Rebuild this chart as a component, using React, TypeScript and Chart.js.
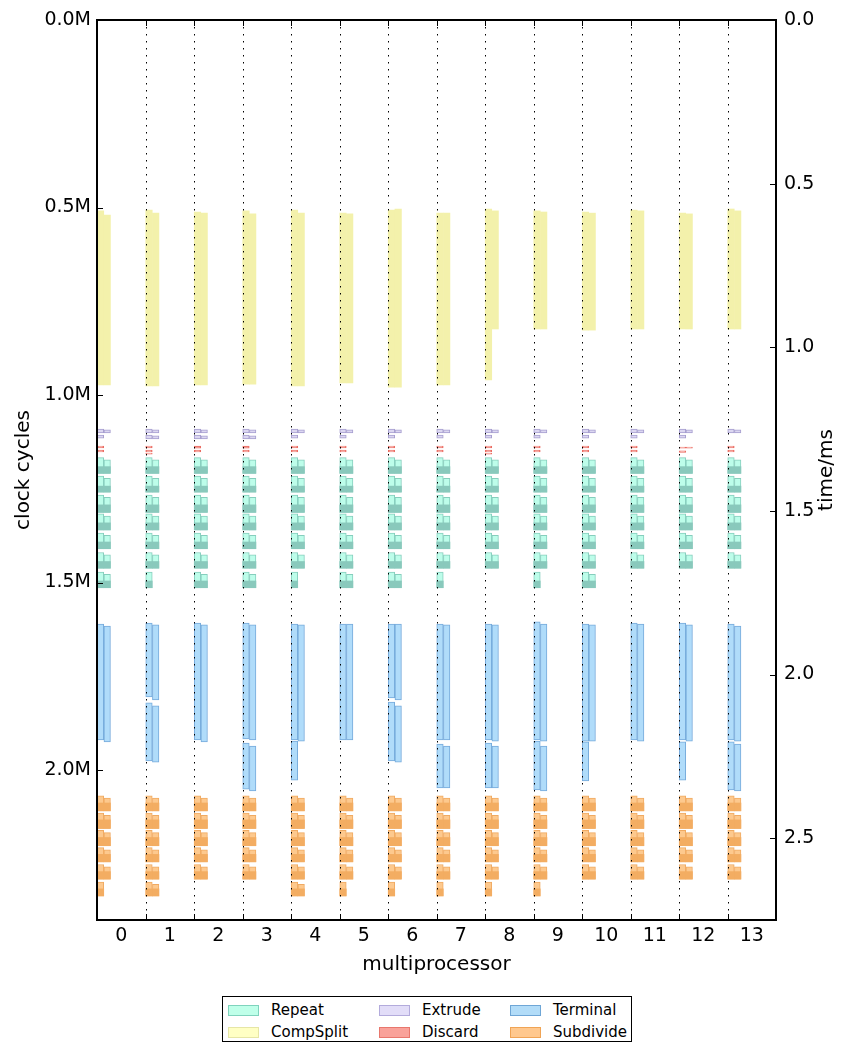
import React, { useEffect, useRef } from "react";
import { Chart, registerables } from "chart.js";

Chart.register(...registerables);

// ---------------- data (clock cycles in millions) ----------------
const multiprocessors = [0, 1, 2, 3, 4, 5, 6, 7, 8, 9, 10, 11, 12, 13];
const cycleTicks = [0, 0.5, 1.0, 1.5, 2.0];
const timeTicks = [0, 0.5, 1.0, 1.5, 2.0, 2.5];
const CYCLE_MAX = 2.4; // M cycles
const TIME_MAX = 2.75; // ms

// [multiprocessor, lane, start, end]
const compSplitBars = [
  [0, 0, 0.509, 0.973], [0, 1, 0.52, 0.973],
  [1, 0, 0.507, 0.976], [1, 1, 0.515, 0.976],
  [2, 0, 0.512, 0.973], [2, 1, 0.515, 0.973],
  [3, 0, 0.509, 0.971], [3, 1, 0.517, 0.971],
  [4, 0, 0.507, 0.976], [4, 1, 0.515, 0.976],
  [5, 0, 0.515, 0.968], [5, 1, 0.517, 0.968],
  [6, 0, 0.507, 0.979], [6, 1, 0.504, 0.979],
  [7, 0, 0.515, 0.973], [7, 1, 0.515, 0.973],
  [8, 0, 0.504, 0.96], [8, 1, 0.509, 0.824],
  [9, 0, 0.509, 0.824], [9, 1, 0.512, 0.824],
  [10, 0, 0.512, 0.827], [10, 1, 0.515, 0.827],
  [11, 0, 0.507, 0.824], [11, 1, 0.509, 0.824],
  [12, 0, 0.515, 0.824], [12, 1, 0.517, 0.824],
  [13, 0, 0.504, 0.824], [13, 1, 0.509, 0.824],
];

const extrudeBars = [
  [0, 0, 1.091, 1.101], [0, 1, 1.093, 1.101], [0, 0, 1.107, 1.115],
  [1, 0, 1.091, 1.101], [1, 1, 1.093, 1.101], [1, 0, 1.107, 1.117], [1, 1, 1.109, 1.117],
  [2, 0, 1.091, 1.101], [2, 1, 1.093, 1.101], [2, 0, 1.107, 1.117], [2, 1, 1.109, 1.117],
  [3, 0, 1.091, 1.101], [3, 1, 1.093, 1.101], [3, 0, 1.107, 1.117], [3, 1, 1.109, 1.117],
  [4, 0, 1.091, 1.101], [4, 1, 1.093, 1.101], [4, 0, 1.107, 1.115],
  [5, 0, 1.091, 1.101], [5, 1, 1.093, 1.101], [5, 0, 1.107, 1.115],
  [6, 0, 1.091, 1.101], [6, 1, 1.093, 1.101], [6, 0, 1.107, 1.115],
  [7, 0, 1.091, 1.101], [7, 1, 1.093, 1.101], [7, 0, 1.107, 1.115],
  [8, 0, 1.091, 1.101], [8, 1, 1.093, 1.101], [8, 0, 1.107, 1.115],
  [9, 0, 1.091, 1.101], [9, 1, 1.093, 1.101], [9, 0, 1.107, 1.115],
  [10, 0, 1.091, 1.101], [10, 1, 1.093, 1.101], [10, 0, 1.107, 1.115],
  [11, 0, 1.091, 1.101], [11, 1, 1.093, 1.101], [11, 0, 1.107, 1.115],
  [12, 0, 1.091, 1.101], [12, 1, 1.093, 1.101], [12, 0, 1.107, 1.115],
  [13, 0, 1.091, 1.101], [13, 1, 1.093, 1.101],
];

const discardBars = [
  [0, 0, 1.136, 1.141], [0, 0, 1.147, 1.152],
  [1, 0, 1.136, 1.141], [1, 0, 1.147, 1.152], [1, 0, 1.155, 1.158],
  [2, 0, 1.136, 1.142], [2, 0, 1.147, 1.152],
  [3, 0, 1.136, 1.142], [3, 0, 1.147, 1.152],
  [4, 0, 1.136, 1.141], [4, 0, 1.147, 1.152],
  [5, 0, 1.136, 1.141], [5, 0, 1.147, 1.152],
  [6, 0, 1.136, 1.141], [6, 0, 1.147, 1.152],
  [7, 0, 1.136, 1.141], [7, 0, 1.147, 1.152],
  [8, 0, 1.136, 1.141], [8, 0, 1.147, 1.152], [8, 0, 1.155, 1.158],
  [9, 0, 1.136, 1.141], [9, 0, 1.147, 1.152],
  [10, 0, 1.136, 1.141], [10, 0, 1.147, 1.152],
  [11, 0, 1.136, 1.141], [11, 0, 1.147, 1.152],
  [12, 0, 1.139, 1.142], [12, 1, 1.139, 1.142], [12, 0, 1.149, 1.153],
  [13, 0, 1.136, 1.141], [13, 0, 1.147, 1.152],
];

// Repeat phases: per round start (lane 0 / lane 1), start of dense part, end
const repeatStartA = [1.167, 1.216, 1.267, 1.317, 1.368, 1.42, 1.472];
const repeatStartB = [1.173, 1.222, 1.273, 1.323, 1.374, 1.426, 1.478];
const repeatDense = [1.191, 1.243, 1.293, 1.341, 1.392, 1.444, 1.496];
const repeatEnd = [1.209, 1.259, 1.313, 1.36, 1.41, 1.462, 1.514];
const repeatRoundsA = [7, 7, 7, 7, 7, 7, 7, 7, 6, 7, 7, 6, 6, 6];
const repeatRoundsB = [7, 6, 7, 7, 6, 7, 7, 6, 6, 6, 7, 6, 6, 6];

const terminalBars = [
  [0, 0, 1.611, 1.92], [0, 1, 1.616, 1.925],
  [1, 0, 1.608, 1.805], [1, 1, 1.613, 1.813], [1, 0, 1.821, 1.976], [1, 1, 1.829, 1.979],
  [2, 0, 1.608, 1.92], [2, 1, 1.613, 1.925],
  [3, 0, 1.608, 1.917], [3, 1, 1.613, 1.92], [3, 0, 1.928, 2.051], [3, 1, 1.936, 2.056],
  [4, 0, 1.611, 1.92], [4, 1, 1.613, 1.923], [4, 0, 1.923, 2.027],
  [5, 0, 1.611, 1.92], [5, 1, 1.611, 1.92],
  [6, 0, 1.611, 1.808], [6, 1, 1.611, 1.813], [6, 0, 1.819, 1.976], [6, 1, 1.829, 1.979],
  [7, 0, 1.611, 1.92], [7, 1, 1.613, 1.92], [7, 0, 1.931, 2.048], [7, 1, 1.936, 2.048],
  [8, 0, 1.611, 1.92], [8, 1, 1.613, 1.923], [8, 0, 1.928, 2.048], [8, 1, 1.936, 2.048],
  [9, 0, 1.605, 1.92], [9, 1, 1.611, 1.923], [9, 0, 1.923, 2.053], [9, 1, 1.936, 2.056],
  [10, 0, 1.611, 1.923], [10, 1, 1.613, 1.923], [10, 0, 1.925, 2.029],
  [11, 0, 1.608, 1.92], [11, 1, 1.611, 1.923],
  [12, 0, 1.608, 1.92], [12, 1, 1.613, 1.923], [12, 0, 1.925, 2.027],
  [13, 0, 1.611, 1.92], [13, 1, 1.616, 1.923], [13, 0, 1.925, 2.053], [13, 1, 1.931, 2.056],
];

const subdivideStartA = [2.069, 2.115, 2.161, 2.207, 2.252, 2.299];
const subdivideStartB = [2.075, 2.121, 2.167, 2.213, 2.258, 2.305];
const subdivideDense = [2.088, 2.133, 2.18, 2.225, 2.271, 2.317];
const subdivideEnd = [2.109, 2.156, 2.202, 2.245, 2.291, 2.336];
const subdivideRoundsA = [6, 6, 5, 5, 6, 6, 6, 6, 6, 6, 5, 5, 5, 5];
const subdivideRoundsB = [5, 6, 5, 5, 6, 5, 5, 5, 5, 5, 5, 5, 5, 5];

const legendItems = [
  { label: "Repeat", fill: "#bfffe9", edge: "#7fd3bd" },
  { label: "Extrude", fill: "#e2ddf8", edge: "#b3abdc" },
  { label: "Terminal", fill: "#b2dcf8", edge: "#6fa6d6" },
  { label: "CompSplit", fill: "#ffffc4", edge: "#e6e6a6" },
  { label: "Discard", fill: "#f9a29a", edge: "#e8776d" },
  { label: "Subdivide", fill: "#ffc88e", edge: "#f0a455" },
];

// ---------------- helpers ----------------
const LANE_OFFSET = [0.072, 0.21]; // lane centre, from the start of the multiprocessor slot

const toPoints = (bars: number[][]) =>
  bars.map(([mp, lane, s, e]) => ({ x: mp - 0.5 + LANE_OFFSET[lane], y: [s, e] }));

function roundBars(
  roundsA: number[], roundsB: number[],
  startA: number[], startB: number[], dense: number[], end: number[]
) {
  const full: number[][] = [];
  const heavy: number[][] = [];
  multiprocessors.forEach((mp) => {
    for (let g = 0; g < roundsA[mp]; g++) {
      full.push([mp, 0, startA[g], end[g]]);
      heavy.push([mp, 0, dense[g], end[g]]);
    }
    for (let g = 0; g < roundsB[mp]; g++) {
      full.push([mp, 1, startB[g], end[g]]);
      heavy.push([mp, 1, dense[g], end[g]]);
    }
  });
  return { full, heavy };
}

const FONT = "'DejaVu Sans', 'Liberation Sans', sans-serif";

const framePlugin = {
  id: "mplFrame",
  afterDatasetsDraw(chart: any) {
    const { ctx, chartArea } = chart;
    const { left, right, top, bottom } = chartArea;
    const xs = chart.scales.x;
    const ys = chart.scales.y;
    const ys1 = chart.scales.y1;
    ctx.save();
    // dotted slot separators
    ctx.strokeStyle = "#000";
    ctx.lineWidth = 1;
    ctx.setLineDash([1.5, 5.5]);
    multiprocessors.slice(1).forEach((mp) => {
      const px = Math.round(xs.getPixelForValue(mp - 0.5)) + 0.5;
      ctx.beginPath();
      ctx.moveTo(px, top);
      ctx.lineTo(px, bottom);
      ctx.stroke();
    });
    ctx.setLineDash([]);
    // inward ticks
    const tl = 6;
    cycleTicks.forEach((v) => {
      const py = Math.round(ys.getPixelForValue(v)) + 0.5;
      ctx.beginPath();
      ctx.moveTo(left, py);
      ctx.lineTo(left + tl, py);
      ctx.stroke();
    });
    timeTicks.forEach((v) => {
      const py = Math.round(ys1.getPixelForValue(v)) + 0.5;
      ctx.beginPath();
      ctx.moveTo(right, py);
      ctx.lineTo(right - tl, py);
      ctx.stroke();
    });
    multiprocessors.slice(1).forEach((mp) => {
      const px = Math.round(xs.getPixelForValue(mp - 0.5)) + 0.5;
      ctx.beginPath();
      ctx.moveTo(px, bottom);
      ctx.lineTo(px, bottom - tl);
      ctx.moveTo(px, top);
      ctx.lineTo(px, top + tl);
      ctx.stroke();
    });
    // frame
    ctx.lineWidth = 2;
    ctx.strokeRect(left, top, right - left, bottom - top);
    // right axis title (matplotlib-style, reading bottom to top)
    ctx.fillStyle = "#000";
    ctx.font = `20px ${FONT}`;
    ctx.textAlign = "center";
    ctx.textBaseline = "middle";
    ctx.translate(827, (top + bottom) / 2);
    ctx.rotate(-Math.PI / 2);
    ctx.fillText("time/ms", 0, 0);
    ctx.restore();
  },
};

export default function App() {
  const canvasRef = useRef<HTMLCanvasElement | null>(null);

  useEffect(() => {
    if (!canvasRef.current) return;
    Chart.defaults.font.family = FONT;
    Chart.defaults.color = "#000";

    const repeat = roundBars(repeatRoundsA, repeatRoundsB, repeatStartA, repeatStartB, repeatDense, repeatEnd);
    const subdivide = roundBars(
      subdivideRoundsA, subdivideRoundsB, subdivideStartA, subdivideStartB, subdivideDense, subdivideEnd
    );

    const base = { xAxisID: "x", yAxisID: "y", borderSkipped: false as const };

    const chart = new Chart(canvasRef.current, {
      type: "bar",
      data: {
        datasets: [
          { ...base, label: "CompSplit", data: toPoints(compSplitBars) as any, backgroundColor: "#f3f1ab", borderColor: "#f0eea4", borderWidth: 0, order: 5 },
          { ...base, label: "Extrude", data: toPoints(extrudeBars) as any, backgroundColor: "#dcd7f1", borderColor: "#a69ecf", borderWidth: 1, order: 4 },
          { ...base, label: "Discard", data: toPoints(discardBars) as any, backgroundColor: "#f6a59d", borderColor: "#ea6a60", borderWidth: 1, order: 4 },
          { ...base, label: "Repeat", data: toPoints(repeat.full) as any, backgroundColor: "#bdfdea", borderColor: "#86cebd", borderWidth: 1, order: 3 },
          { ...base, label: "Repeat (dense)", data: toPoints(repeat.heavy) as any, backgroundColor: "#89c9bc", borderWidth: 0, order: 2 },
          { ...base, label: "Terminal", data: toPoints(terminalBars) as any, backgroundColor: "#b0dcfa", borderColor: "#76aadb", borderWidth: 1, order: 3 },
          { ...base, label: "Subdivide", data: toPoints(subdivide.full) as any, backgroundColor: "#fdc98e", borderColor: "#f0aa62", borderWidth: 1, order: 3 },
          { ...base, label: "Subdivide (dense)", data: toPoints(subdivide.heavy) as any, backgroundColor: "#f3ad62", borderWidth: 0, order: 2 },
        ],
      },
      options: {
        animation: false,
        responsive: false,
        maintainAspectRatio: false,
        events: [],
        layout: { padding: { top: 20, left: 0, right: 0, bottom: 0 } },
        datasets: { bar: { grouped: false, barThickness: 6.5 } as any },
        plugins: { legend: { display: false }, tooltip: { enabled: false } },
        scales: {
          x: {
            type: "linear",
            position: "bottom",
            offset: false,
            min: -0.5,
            max: 13.5,
            afterBuildTicks: (s: any) => {
              s.ticks = multiprocessors.map((v) => ({ value: v }));
            },
            afterFit: (s: any) => {
              s.height = 70;
            },
            grid: { display: false, drawTicks: false, offset: false },
            border: { display: false },
            ticks: {
              color: "#000",
              font: { size: 19 },
              padding: 5,
              maxRotation: 0,
              autoSkip: false,
              callback: (v: any) => String(v),
            },
            title: {
              display: true,
              text: "multiprocessor",
              color: "#000",
              font: { size: 20 },
              padding: { top: 0, bottom: 13 },
            },
          },
          y: {
            type: "linear",
            position: "left",
            reverse: true,
            min: 0,
            max: CYCLE_MAX,
            afterBuildTicks: (s: any) => {
              s.ticks = cycleTicks.map((v) => ({ value: v }));
            },
            afterFit: (s: any) => {
              s.width = 97;
            },
            grid: { display: false, drawTicks: false },
            border: { display: false },
            ticks: {
              color: "#000",
              font: { size: 19 },
              padding: 6,
              callback: (v: any) => `${Number(v).toFixed(1)}M`,
            },
            title: {
              display: true,
              text: "clock cycles",
              color: "#000",
              font: { size: 20 },
              padding: { top: 12, bottom: 0 },
            },
          },
          y1: {
            type: "linear",
            position: "right",
            reverse: true,
            min: 0,
            max: TIME_MAX,
            afterBuildTicks: (s: any) => {
              s.ticks = timeTicks.map((v) => ({ value: v }));
            },
            afterFit: (s: any) => {
              s.width = 66;
            },
            grid: { display: false, drawTicks: false },
            border: { display: false },
            ticks: {
              color: "#000",
              font: { size: 19 },
              padding: 8,
              callback: (v: any) => Number(v).toFixed(1),
            },
          },
        },
      },
      plugins: [framePlugin],
    });
    return () => chart.destroy();
  }, []);

  const colLeft = [5, 156, 287];
  return (
    <div style={{ position: "absolute", left: 0, top: 0, width: 842, height: 1048, background: "#fff" }}>
      <canvas ref={canvasRef} width={842} height={990} style={{ display: "block", width: 842, height: 990 }} />
      <div
        style={{
          position: "absolute",
          left: 222,
          top: 996,
          width: 410,
          height: 46,
          border: "1px solid #000",
          boxSizing: "border-box",
          fontFamily: FONT,
          fontSize: 15,
          color: "#000",
        }}
      >
        {legendItems.map((item, i) => {
          const col = i % 3;
          const row = Math.floor(i / 3);
          return (
            <div
              key={item.label}
              style={{
                position: "absolute",
                left: colLeft[col],
                top: 5 + row * 22,
                height: 16,
                display: "flex",
                alignItems: "center",
                whiteSpace: "nowrap",
              }}
            >
              <span
                style={{
                  display: "inline-block",
                  width: 31,
                  height: 11,
                  background: item.fill,
                  border: `1px solid ${item.edge}`,
                  boxSizing: "border-box",
                  marginRight: 12,
                }}
              />
              <span style={{ lineHeight: "16px" }}>{item.label}</span>
            </div>
          );
        })}
      </div>
    </div>
  );
}
